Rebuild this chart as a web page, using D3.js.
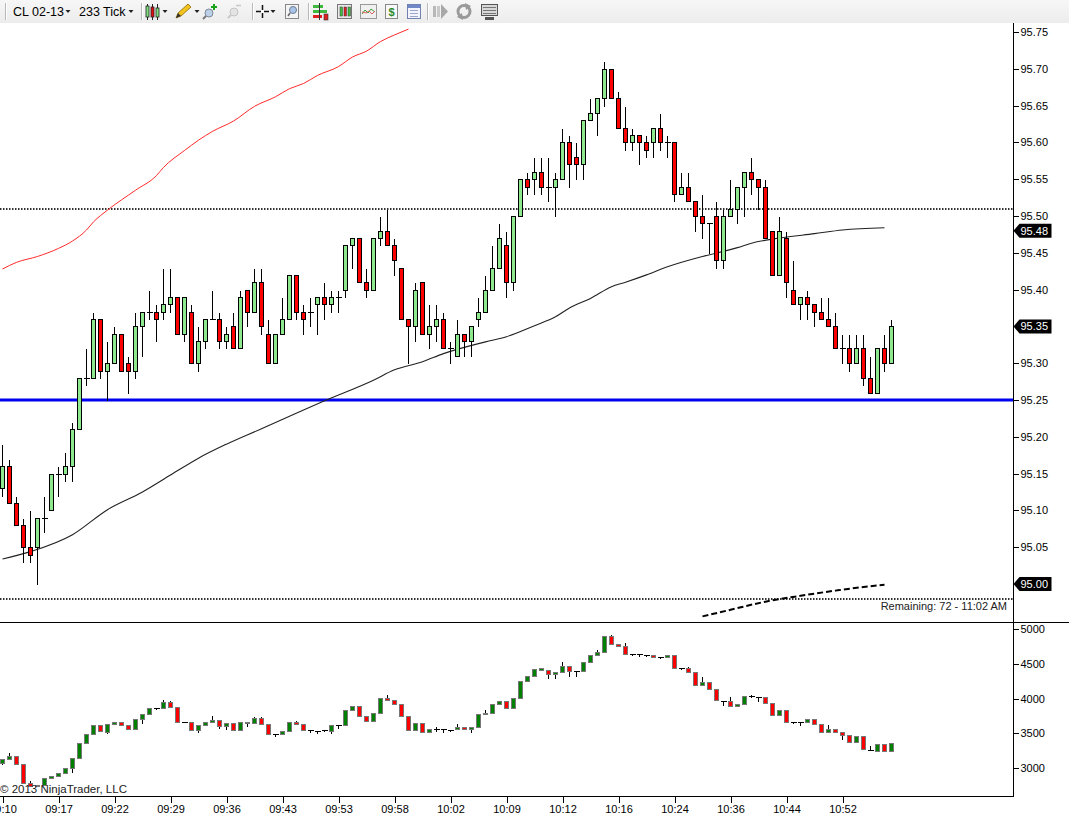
<!DOCTYPE html>
<html><head><meta charset="utf-8">
<script src="https://cdn.jsdelivr.net/npm/d3@7/dist/d3.min.js"></script>
<style>
html,body{margin:0;padding:0;background:#fff;overflow:hidden;}
svg{display:block;font-family:"Liberation Sans",Arial,sans-serif;}
</style></head>
<body>
<svg id="c" width="1069" height="823"></svg>
<script>
// ---------- DATA ----------
const instrument = "CL 02-13";
const period = "233 Tick";
// main price candles: [open, high, low, close]
const priceBars = [
[95.13,95.19,95.12,95.16],[95.16,95.17,95.11,95.11],[95.11,95.12,95.08,95.08],[95.08,95.09,95.03,95.05],
[95.05,95.10,95.03,95.04],[95.05,95.09,95.00,95.09],[95.09,95.12,95.07,95.09],[95.10,95.15,95.10,95.15],
[95.15,95.16,95.12,95.15],[95.15,95.18,95.14,95.16],[95.16,95.22,95.14,95.21],[95.21,95.28,95.21,95.28],
[95.28,95.32,95.27,95.28],[95.28,95.37,95.28,95.36],[95.36,95.36,95.28,95.29],[95.29,95.33,95.25,95.30],
[95.30,95.35,95.30,95.34],[95.34,95.34,95.29,95.29],[95.30,95.31,95.26,95.29],[95.29,95.37,95.28,95.35],
[95.35,95.37,95.31,95.37],[95.37,95.40,95.36,95.37],[95.37,95.38,95.33,95.36],[95.37,95.43,95.36,95.38],
[95.38,95.43,95.37,95.39],[95.39,95.39,95.34,95.34],[95.34,95.39,95.33,95.39],[95.37,95.38,95.30,95.30],
[95.30,95.35,95.29,95.33],[95.33,95.36,95.32,95.36],[95.36,95.40,95.36,95.36],[95.36,95.37,95.32,95.33],
[95.33,95.35,95.32,95.34],[95.35,95.37,95.32,95.32],[95.32,95.40,95.32,95.39],[95.40,95.40,95.35,95.37],
[95.37,95.43,95.37,95.41],[95.41,95.43,95.34,95.35],[95.34,95.36,95.30,95.30],[95.30,95.34,95.30,95.34],
[95.34,95.39,95.34,95.36],[95.36,95.42,95.36,95.42],[95.42,95.42,95.36,95.37],[95.37,95.38,95.34,95.36],
[95.37,95.39,95.35,95.37],[95.38,95.39,95.34,95.39],[95.39,95.41,95.36,95.38],[95.38,95.40,95.37,95.39],
[95.39,95.40,95.37,95.39],[95.40,95.46,95.39,95.46],[95.46,95.47,95.43,95.47],[95.47,95.47,95.41,95.41],
[95.41,95.43,95.39,95.40],[95.40,95.47,95.40,95.47],[95.47,95.50,95.46,95.48],[95.48,95.51,95.46,95.46],
[95.46,95.47,95.42,95.44],[95.43,95.43,95.36,95.36],[95.36,95.36,95.30,95.35],[95.35,95.41,95.33,95.40],
[95.41,95.41,95.34,95.34],[95.34,95.38,95.32,95.35],[95.35,95.38,95.33,95.36],[95.36,95.37,95.32,95.32],
[95.32,95.33,95.30,95.32],[95.31,95.36,95.31,95.34],[95.34,95.34,95.31,95.33],[95.33,95.35,95.31,95.35],
[95.36,95.39,95.35,95.37],[95.37,95.42,95.37,95.40],[95.40,95.46,95.40,95.43],[95.43,95.49,95.43,95.47],
[95.46,95.48,95.39,95.41],[95.41,95.50,95.40,95.50],[95.50,95.55,95.50,95.55],[95.55,95.56,95.53,95.54],
[95.55,95.58,95.53,95.56],[95.56,95.58,95.53,95.54],[95.54,95.58,95.52,95.54],[95.54,95.56,95.50,95.55],
[95.55,95.62,95.55,95.60],[95.60,95.61,95.54,95.57],[95.58,95.60,95.55,95.57],[95.57,95.63,95.55,95.63],
[95.63,95.66,95.63,95.64],[95.64,95.66,95.61,95.66],[95.66,95.71,95.65,95.70],[95.70,95.70,95.66,95.66],
[95.66,95.67,95.62,95.62],[95.62,95.65,95.59,95.60],[95.60,95.62,95.59,95.61],[95.61,95.61,95.57,95.60],
[95.60,95.61,95.58,95.59],[95.60,95.62,95.58,95.62],[95.62,95.64,95.59,95.60],[95.60,95.61,95.58,95.60],
[95.60,95.60,95.52,95.53],[95.53,95.56,95.53,95.54],[95.54,95.56,95.52,95.52],[95.52,95.52,95.48,95.50],
[95.50,95.53,95.47,95.49],[95.49,95.49,95.45,95.49],[95.50,95.52,95.43,95.44],[95.44,95.51,95.43,95.50],
[95.50,95.55,95.50,95.51],[95.51,95.54,95.49,95.54],[95.54,95.56,95.50,95.56],[95.56,95.58,95.53,95.55],
[95.55,95.55,95.51,95.54],[95.54,95.55,95.47,95.47],[95.48,95.48,95.42,95.42],[95.42,95.50,95.42,95.48],
[95.47,95.48,95.39,95.41],[95.40,95.44,95.38,95.38],[95.38,95.39,95.36,95.39],[95.39,95.40,95.36,95.38],
[95.38,95.38,95.35,95.37],[95.37,95.39,95.36,95.36],[95.36,95.39,95.35,95.35],[95.35,95.37,95.32,95.32],
[95.32,95.34,95.30,95.32],[95.32,95.34,95.29,95.30],[95.30,95.34,95.30,95.32],[95.32,95.34,95.27,95.28],
[95.28,95.31,95.26,95.26],[95.26,95.32,95.26,95.32],[95.32,95.34,95.29,95.30],[95.30,95.36,95.30,95.35]
];
// lower panel candles: [open, high, low, close]
const lowerBars = [
[3064,3130,3055,3121],[3121,3231,3121,3174],[3174,3174,3049,3049],[3049,3049,2775,2775],
[2775,2822,2736,2736],[2736,2750,2730,2745],[2745,2847,2745,2847],[2847,2880,2847,2880],
[2880,2930,2880,2919],[2919,3000,2919,3000],[3000,3136,2942,3136],[3136,3353,3136,3353],
[3353,3483,3353,3483],[3483,3617,3483,3617],[3617,3617,3530,3530],[3520,3627,3500,3627],
[3627,3656,3627,3656],[3656,3656,3617,3617],[3617,3617,3559,3559],[3559,3700,3559,3700],
[3700,3772,3642,3772],[3772,3858,3772,3858],[3858,3870,3850,3858],[3858,3993,3858,3945],
[3945,3980,3877,3877],[3877,3877,3665,3665],[3665,3680,3655,3665],[3665,3665,3541,3541],
[3541,3617,3520,3617],[3617,3656,3617,3656],[3656,3762,3656,3689],[3689,3689,3580,3598],
[3598,3642,3560,3642],[3642,3642,3541,3541],[3541,3665,3541,3665],[3642,3680,3600,3665],
[3642,3740,3642,3714],[3714,3740,3627,3627],[3627,3627,3483,3483],[3483,3490,3460,3483],
[3483,3530,3483,3530],[3530,3665,3530,3665],[3665,3690,3627,3627],[3627,3627,3541,3541],
[3541,3560,3520,3541],[3530,3545,3500,3530],[3541,3560,3530,3541],[3530,3610,3500,3610],
[3610,3617,3580,3617],[3610,3830,3610,3830],[3830,3896,3830,3896],[3896,3896,3743,3743],
[3743,3743,3671,3671],[3671,3786,3671,3786],[3786,4003,3786,4003],[4003,4060,3974,3974],
[3974,3974,3916,3916],[3916,3916,3747,3747],[3747,3747,3549,3549],[3549,3642,3549,3642],
[3642,3642,3512,3512],[3512,3555,3512,3555],[3555,3600,3530,3555],[3555,3570,3520,3555],
[3550,3565,3535,3550],[3555,3640,3555,3584],[3584,3584,3555,3555],[3555,3584,3510,3584],
[3584,3772,3584,3772],[3772,3848,3772,3795],[3786,3916,3786,3916],[3916,3960,3916,3960],
[3960,3960,3858,3858],[3858,4007,3858,4007],[4007,4249,4007,4249],[4249,4325,4249,4325],
[4325,4426,4325,4426],[4416,4460,4416,4436],[4408,4408,4292,4350],[4350,4379,4300,4379],
[4379,4542,4379,4465],[4465,4465,4330,4397],[4397,4405,4330,4397],[4397,4523,4397,4523],
[4523,4624,4523,4624],[4624,4710,4624,4668],[4668,4899,4668,4899],[4899,4930,4792,4792],
[4792,4792,4763,4763],[4763,4810,4647,4647],[4647,4660,4630,4647],[4640,4660,4620,4640],
[4633,4650,4620,4633],[4633,4633,4595,4595],[4604,4615,4580,4604],[4604,4624,4604,4624],
[4624,4624,4436,4436],[4436,4445,4425,4436],[4436,4470,4379,4379],[4379,4379,4199,4199],
[4199,4330,4199,4234],[4234,4234,4137,4137],[4137,4137,3974,3974],[3968,3975,3910,3968],
[3960,4030,3887,3887],[3887,3916,3887,3916],[3916,4032,3916,4032],[4032,4070,4025,4032],
[4022,4030,3960,4022],[4022,4022,3931,3931],[3931,3931,3762,3762],[3762,3830,3762,3830],
[3830,3830,3656,3656],[3665,3680,3650,3665],[3665,3675,3610,3665],[3665,3700,3665,3700],
[3700,3700,3627,3627],[3627,3627,3520,3520],[3520,3630,3520,3555],[3555,3555,3520,3520],
[3520,3520,3420,3473],[3473,3473,3367,3367],[3367,3458,3367,3458],[3458,3458,3266,3266],
[3256,3330,3250,3256],[3246,3343,3246,3343],[3343,3343,3246,3246],[3246,3361,3246,3361]
];
// slow moving average (black), read at bar indices
const smaIdx = [0,4,10,15,20,24,28,32,37,41,46,53,56,60,63,69,72,76,79,81,84,87,89,92,95,100,105,107,111,116,120,126];
const smaVal = [95.034,95.044,95.067,95.101,95.125,95.148,95.171,95.190,95.211,95.228,95.249,95.277,95.291,95.302,95.313,95.329,95.336,95.351,95.363,95.375,95.388,95.404,95.410,95.420,95.431,95.445,95.457,95.463,95.470,95.476,95.481,95.484];
// red moving average (leaves the top of the panel)
const redIdx = [0,2,5,8,10,12,13,15,19,22,23,26,28,30,33,36,39,41,43,45,48,50,52,54,56,58];
const redVal = [95.428,95.437,95.445,95.456,95.466,95.481,95.492,95.508,95.535,95.555,95.566,95.589,95.603,95.615,95.629,95.649,95.662,95.673,95.680,95.691,95.703,95.716,95.724,95.737,95.746,95.754];
// dashed line (lower right)
const dashIdx = [100,104,109,114,119,123,126];
const dashVal = [94.956,94.965,94.976,94.984,94.991,94.996,94.999];
// horizontal levels
const dottedLevels = [95.51, 94.98];
const blueLevel = 95.25;
// axis ticks
const priceTicks = [95.05,95.10,95.15,95.20,95.25,95.30,95.35,95.40,95.45,95.50,95.55,95.60,95.65,95.70,95.75];
const lowerTicks = [3000,3500,4000,4500,5000];
const timeIdx = [0,8,16,24,32,40,48,56,64,72,80,88,96,104,112,120];
const timeLabels = ["09:10","09:17","09:22","09:29","09:36","09:43","09:53","09:58","10:02","10:09","10:12","10:16","10:24","10:36","10:44","10:52"];
const priceTags = [95.48, 95.35, 95.00];
const remainingText = "Remaining: 72 - 11:02 AM";
const copyrightText = "\u00a9 2013 NinjaTrader, LLC";

// ---------- LAYOUT ----------
const svg = d3.select("#c");
const axisX = 1013.5;
const x = d3.scaleLinear().domain([0, priceBars.length - 1]).range([2.5, 2.5 + 7 * (priceBars.length - 1)]);
const y = d3.scaleLinear().domain([95.25, 95.75]).range([400, 32]);
const yb = d3.scaleLinear().domain([3000, 5000]).range([767.7, 629.3]);
const FONT = "11px";
const snap = v => Math.round(v) + 0.5;

svg.append("rect").attr("width",1069).attr("height",823).attr("fill","#fff");

// ---------- TOOLBAR ----------
const tb = svg.append("g");
const grad = svg.append("defs").append("linearGradient").attr("id","tbg").attr("x1",0).attr("y1",0).attr("x2",0).attr("y2",1);
grad.append("stop").attr("offset","0%").attr("stop-color","#f7f7f7");
grad.append("stop").attr("offset","100%").attr("stop-color","#ececec");
tb.append("rect").attr("x",0).attr("y",0).attr("width",1069).attr("height",23).attr("fill","url(#tbg)");
[5,141,252,308,427].forEach(sx=>{
  tb.append("line").attr("x1",sx+0.5).attr("x2",sx+0.5).attr("y1",3).attr("y2",20).attr("stroke","#b8b8b8");
  tb.append("line").attr("x1",sx+1.5).attr("x2",sx+1.5).attr("y1",3).attr("y2",20).attr("stroke","#ffffff");
});
tb.append("text").attr("x",13).attr("y",15.5).attr("font-size","12.5px").attr("fill","#000").text(instrument);
tb.append("text").attr("x",79).attr("y",15.5).attr("font-size","12.5px").attr("fill","#000").text(period);
const tri = (cx)=>tb.append("path").attr("d",`M${cx-2.5},10 L${cx+2.5},10 L${cx},13 Z`).attr("fill","#222");
[68,131,165,197,273].forEach(tri);
[[146,"#7de07d"],[151,"#e01010"],[156,"#7de07d"]].forEach(([ix,c],k)=>{
  tb.append("line").attr("x1",ix+1.5).attr("x2",ix+1.5).attr("y1",4).attr("y2",20).attr("stroke","#222");
  tb.append("rect").attr("x",ix).attr("y",6+k).attr("width",3).attr("height",11-k).attr("fill",c).attr("stroke","#222").attr("stroke-width",0.8);
});
tb.append("path").attr("d","M176,18 L178,13 L188,4 L191,7 L181,16 Z").attr("fill","#f3c320").attr("stroke","#8a6a00").attr("stroke-width",0.8);
tb.append("path").attr("d","M176,18 L178,13 L181,16 Z").attr("fill","#333");
tb.append("circle").attr("cx",209).attr("cy",13).attr("r",4).attr("fill","#bcd0e8").attr("stroke","#7a8a9a");
tb.append("line").attr("x1",206).attr("y1",16).attr("x2",203).attr("y2",19).attr("stroke","#777").attr("stroke-width",2);
tb.append("path").attr("d","M213,4 h2 v2 h2 v2 h-2 v2 h-2 v-2 h-2 v-2 h2 Z").attr("fill","#1aa31a");
tb.append("circle").attr("cx",234).attr("cy",12).attr("r",4).attr("fill","#e4e4e4").attr("stroke","#c4c4c4");
tb.append("line").attr("x1",231).attr("y1",15).attr("x2",228).attr("y2",18).attr("stroke","#c8c8c8").attr("stroke-width",2);
tb.append("line").attr("x1",236).attr("y1",5.5).attr("x2",241).attr("y2",5.5).attr("stroke","#c8c8c8").attr("stroke-width",1.5);
tb.append("line").attr("x1",256).attr("x2",269).attr("y1",11.5).attr("y2",11.5).attr("stroke","#111").attr("stroke-width",1.5);
tb.append("line").attr("x1",262.5).attr("x2",262.5).attr("y1",5).attr("y2",18).attr("stroke","#111").attr("stroke-width",1.5);
tb.append("rect").attr("x",261).attr("y",10).attr("width",3).attr("height",3).attr("fill","#fff");
tb.append("rect").attr("x",285.5).attr("y",4.5).attr("width",13).attr("height",14).attr("fill","#f4f4f4").attr("stroke","#888");
tb.append("circle").attr("cx",293).attr("cy",10).attr("r",3.5).attr("fill","#a8c4e8").attr("stroke","#6c7c90");
tb.append("line").attr("x1",290).attr("y1",13).attr("x2",288).attr("y2",16).attr("stroke","#666").attr("stroke-width",1.5);
tb.append("rect").attr("x",313).attr("y",5).attr("width",10).attr("height",3).attr("fill","#3fb83f");
tb.append("rect").attr("x",313).attr("y",10).attr("width",14).attr("height",3).attr("fill","#3fb83f");
tb.append("rect").attr("x",313).attr("y",15).attr("width",9).attr("height",3).attr("fill","#e02020");
tb.append("line").attr("x1",319.5).attr("x2",319.5).attr("y1",3).attr("y2",20).attr("stroke","#333");
tb.append("rect").attr("x",324).attr("y",14).attr("width",4).attr("height",6).attr("fill","#e02020").attr("stroke","#333").attr("stroke-width",0.6);
tb.append("rect").attr("x",337.5).attr("y",4.5).attr("width",14).attr("height",14).attr("fill","#e8e8e8").attr("stroke","#777");
[[340,"#40c040"],[344,"#e02020"],[348,"#40c040"]].forEach(([ix,c])=>{
  tb.append("rect").attr("x",ix).attr("y",7).attr("width",2.5).attr("height",9).attr("fill",c).attr("stroke","#333").attr("stroke-width",0.5);
});
tb.append("rect").attr("x",360.5).attr("y",4.5).attr("width",16).attr("height",14).attr("fill","#f0f0f0").attr("stroke","#999");
tb.append("path").attr("d","M362,14 L365,10 L368,13 L371,9 L375,12").attr("fill","none").attr("stroke","#3aa03a");
tb.append("path").attr("d","M362,12 L366,13 L369,11 L372,14 L375,11").attr("fill","none").attr("stroke","#e06060");
tb.append("rect").attr("x",385.5).attr("y",4.5).attr("width",12).attr("height",14).attr("fill","#f8f8f8").attr("stroke","#888");
tb.append("text").attr("x",391.5).attr("y",16).attr("text-anchor","middle").attr("font-size","11px").attr("font-weight","bold").attr("fill","#2a8a2a").text("$");
tb.append("rect").attr("x",407.5).attr("y",4.5).attr("width",13).attr("height",14).attr("fill","#f4f4ff").attr("stroke","#7080b0");
tb.append("rect").attr("x",408).attr("y",5).attr("width",12).attr("height",3).attr("fill","#7088c8");
[10,13,16].forEach(yy=>tb.append("line").attr("x1",410).attr("x2",418).attr("y1",yy+0.5).attr("y2",yy+0.5).attr("stroke","#9aa6c8"));
tb.append("rect").attr("x",433).attr("y",6).attr("width",3).attr("height",11).attr("fill","#b8b8b8");
tb.append("rect").attr("x",437).attr("y",6).attr("width",3).attr("height",11).attr("fill","#c8c8c8");
tb.append("path").attr("d","M441,4 L448,11.5 L441,19 Z").attr("fill","#a8a8a8");
tb.append("circle").attr("cx",464).attr("cy",11.5).attr("r",6).attr("fill","none").attr("stroke","#9a9a9a").attr("stroke-width",3);
tb.append("path").attr("d","M465,3 L471,6 L466,10 Z").attr("fill","#9a9a9a");
tb.append("path").attr("d","M463,20 L457,17 L462,13 Z").attr("fill","#9a9a9a");
tb.append("rect").attr("x",481.5).attr("y",4.5).attr("width",16).attr("height",11).attr("fill","#d8d8d8").attr("stroke","#555");
[7,10,13].forEach(yy=>tb.append("line").attr("x1",483).attr("x2",496).attr("y1",yy+0.5).attr("y2",yy+0.5).attr("stroke","#777"));
tb.append("rect").attr("x",485).attr("y",17).attr("width",9).attr("height",3).attr("fill","#555");

// ---------- CLIPS ----------
const defs = svg.select("defs");
defs.append("clipPath").attr("id","mainClip").append("rect").attr("x",0).attr("y",27).attr("width",axisX).attr("height",595);
defs.append("clipPath").attr("id","lowClip").append("rect").attr("x",0).attr("y",623).attr("width",axisX).attr("height",173);

// ---------- MAIN PANEL ----------
const main = svg.append("g").attr("clip-path","url(#mainClip)");
dottedLevels.forEach(p=>{
  main.append("line").attr("x1",0).attr("x2",axisX).attr("y1",Math.round(y(p))).attr("y2",Math.round(y(p)))
    .attr("stroke","#303030").attr("stroke-width",2).attr("stroke-dasharray","1.5,1.5");
});
main.append("line").attr("x1",0).attr("x2",axisX).attr("y1",y(blueLevel)).attr("y2",y(blueLevel))
  .attr("stroke","#0000f0").attr("stroke-width",3);
const maLine = d3.line().x(d=>x(d[0])).y(d=>y(d[1])).curve(d3.curveMonotoneX);
main.append("path").attr("d",maLine(redIdx.map((d,i)=>[d,redVal[i]]))).attr("fill","none").attr("stroke","#ff2a2a").attr("stroke-width",1);
main.append("path").attr("d",maLine(smaIdx.map((d,i)=>[d,smaVal[i]]))).attr("fill","none").attr("stroke","#222").attr("stroke-width",1.1);
main.append("path").attr("d",maLine(dashIdx.map((d,i)=>[d,dashVal[i]]))).attr("fill","none").attr("stroke","#000").attr("stroke-width",2).attr("stroke-dasharray","6,3");

function drawCandles(g, data, ys, up, down, outline) {
  const cg = g.append("g").attr("shape-rendering","crispEdges");
  data.forEach((d,i)=>{
    const [o,h,l,c] = d;
    const cx = x(i);
    cg.append("line").attr("x1",cx).attr("x2",cx).attr("y1",snap(ys(h))).attr("y2",snap(ys(l))).attr("stroke","#000");
    const top = snap(ys(Math.max(o,c))), bot = snap(ys(Math.min(o,c)));
    if (bot - top < 1) {
      cg.append("line").attr("x1",cx-3).attr("x2",cx+3).attr("y1",top).attr("y2",top).attr("stroke","#000");
    } else {
      cg.append("rect").attr("x",cx-2).attr("y",top).attr("width",4).attr("height",bot-top)
        .attr("fill", c >= o ? up : down).attr("stroke",outline);
    }
  });
}
drawCandles(main, priceBars, y, "#8ee88e", "#ff0000", "#000");

svg.append("text").attr("x",1007).attr("y",610).attr("text-anchor","end").attr("font-size",FONT).attr("fill","#222").text(remainingText);

// ---------- LOWER PANEL ----------
const low = svg.append("g").attr("clip-path","url(#lowClip)");
drawCandles(low, lowerBars, yb, "#008000", "#ff0000", "#777");
low.append("text").attr("x",0).attr("y",793).attr("font-size","11.5px").attr("fill","#222").text(copyrightText);

// ---------- FRAME ----------
svg.append("line").attr("x1",0).attr("x2",1069).attr("y1",622.5).attr("y2",622.5).attr("stroke","#000");
svg.append("line").attr("x1",0).attr("x2",axisX).attr("y1",796.5).attr("y2",796.5).attr("stroke","#000").attr("stroke-width",1.2);
svg.append("line").attr("x1",axisX).attr("x2",axisX).attr("y1",23).attr("y2",797).attr("stroke","#000");

// ---------- AXES ----------
const pAxis = svg.append("g").attr("transform",`translate(${axisX},0)`)
  .call(d3.axisRight(y).tickValues(priceTicks).tickSize(5).tickPadding(2).tickFormat(d3.format(".2f")));
const lAxis = svg.append("g").attr("transform",`translate(${axisX},0)`)
  .call(d3.axisRight(yb).tickValues(lowerTicks).tickSize(5).tickPadding(2).tickFormat(d3.format("d")));
const tAxis = svg.append("g").attr("transform",`translate(0,796.5)`)
  .call(d3.axisBottom(x).tickValues(timeIdx).tickSize(6).tickPadding(3).tickFormat((d,i)=>timeLabels[i]));
[pAxis,lAxis,tAxis].forEach(a=>{
  a.select(".domain").remove();
  a.selectAll("text").attr("font-family","'Liberation Sans',Arial,sans-serif").attr("font-size",FONT).attr("fill","#000");
  a.selectAll("line").attr("stroke","#000").attr("shape-rendering","crispEdges");
});

// ---------- PRICE TAGS ----------
priceTags.forEach(p=>{
  const ty = y(p);
  const g = svg.append("g");
  g.append("path").attr("d",`M${axisX},${ty} L${axisX+6},${ty-7} L${axisX+38},${ty-7} L${axisX+38},${ty+7} L${axisX+6},${ty+7} Z`).attr("fill","#000");
  g.append("text").attr("x",axisX+7).attr("y",ty).attr("dy","0.36em").attr("font-size",FONT).attr("fill","#fff").text(d3.format(".2f")(p));
});
</script>
</body></html>
